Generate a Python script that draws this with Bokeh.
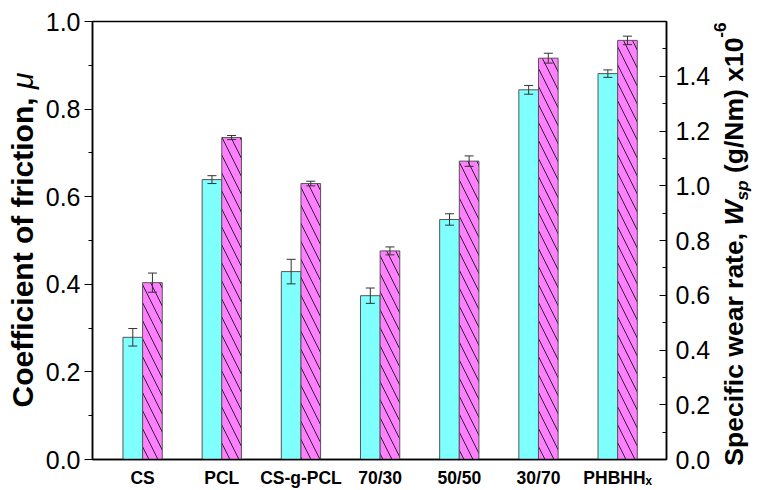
from bokeh.plotting import figure
from bokeh.layouts import row
from bokeh.models import (Range1d, LinearAxis, FixedTicker, Div,
                          PrintfTickFormatter)
from bokeh.embed import file_html
from bokeh.resources import INLINE

# ---- data ----
categories = ["CS", "PCL", "CS-g-PCL", "70/30", "50/50", "30/70", "PHBHH\u2093"]
positions = [1, 2, 3, 4, 5, 6, 7]
mu = [0.279, 0.639, 0.429, 0.374, 0.548, 0.844, 0.881]
mu_err = [0.020, 0.009, 0.028, 0.0175, 0.013, 0.010, 0.0085]
wsp = [0.646, 1.176, 1.008, 0.762, 1.090, 1.466, 1.531]
wsp_err = [0.035, 0.0075, 0.0085, 0.0145, 0.019, 0.018, 0.0155]
left_ticks = [0.0, 0.2, 0.4, 0.6, 0.8, 1.0]
left_minor = [0.1, 0.3, 0.5, 0.7, 0.9]
right_ticks = [0.0, 0.2, 0.4, 0.6, 0.8, 1.0, 1.2, 1.4]
right_minor = [0.1, 0.3, 0.5, 0.7, 0.9, 1.1, 1.3, 1.5]

FONT = "Liberation Sans"
H = 490
LW, MW = 40, 673
RW = 757 - LW - MW
x_lo, x_hi = 0.367, 7.617
bw = 0.248
cap = 0.057
TICK_FS = "25px"

p = figure(width=MW, height=H, output_backend="svg", toolbar_location=None,
           x_range=Range1d(x_lo, x_hi), y_range=Range1d(0, 1.0),
           min_border_left=52, min_border_right=45, min_border_top=21,
           min_border_bottom=30)
p.extra_y_ranges = {"right": Range1d(0, 1.6)}
p.grid.visible = False
p.outline_line_color = "black"
p.outline_line_width = 1.5
p.background_fill_color = "white"
p.border_fill_color = "white"

# left axis
ya = p.yaxis[0]
ya.ticker = FixedTicker(ticks=left_ticks, minor_ticks=left_minor)
ya.formatter = PrintfTickFormatter(format="%.1f")
ya.major_tick_out = 8
ya.major_tick_in = 0
ya.minor_tick_out = 4
ya.minor_tick_in = 0
ya.axis_line_width = 1.5
ya.axis_line_color = "black"
ya.major_tick_line_color = "black"
ya.minor_tick_line_color = "black"
ya.major_label_text_font = FONT
ya.major_label_text_font_size = TICK_FS
ya.major_label_text_color = "black"
ya.major_label_standoff = 4

# right axis
ra = LinearAxis(y_range_name="right",
                ticker=FixedTicker(ticks=right_ticks, minor_ticks=right_minor),
                formatter=PrintfTickFormatter(format="%.1f"))
ra.major_tick_out = 0
ra.major_tick_in = 7
ra.minor_tick_out = 0
ra.minor_tick_in = 4
ra.axis_line_width = 1.5
ra.axis_line_color = "black"
ra.major_label_text_font = FONT
ra.major_label_text_font_size = TICK_FS
ra.major_label_text_color = "black"
ra.major_label_standoff = 9
p.add_layout(ra, "right")

# bottom axis with category labels
xa = p.xaxis[0]
xa.ticker = FixedTicker(ticks=positions)
xa.major_label_overrides = {x: c for x, c in zip(positions, categories)}
xa.major_tick_out = 0
xa.major_tick_in = 0
xa.minor_tick_out = 0
xa.minor_tick_in = 0
xa.major_label_text_font = FONT
xa.major_label_text_font_style = "bold"
xa.major_label_text_font_size = "17.5px"
xa.major_label_text_color = "black"
xa.major_label_standoff = 8
xa.axis_line_width = 1.5
xa.axis_line_color = "black"

# bars
x_cyan = [x - bw / 2 for x in positions]
x_mag = [x + bw / 2 for x in positions]
p.vbar(x=x_cyan, top=mu, bottom=0, width=bw, fill_color="#80FFFF",
       line_color="#555555", line_width=1)
p.vbar(x=x_mag, top=wsp, bottom=0, width=bw, y_range_name="right",
       fill_color="#FF80FF", line_color="#555555", line_width=1,
       hatch_pattern="\\", hatch_color="#111111", hatch_scale=18, hatch_weight=0.9)

# error bars
def errbars(xs, ys, es, **kw):
    lo = [y - e for y, e in zip(ys, es)]
    hi = [y + e for y, e in zip(ys, es)]
    p.segment(x0=xs, y0=lo, x1=xs, y1=hi, line_color="#333333", line_width=1, **kw)
    p.segment(x0=[x - cap for x in xs], y0=hi, x1=[x + cap for x in xs], y1=hi,
              line_color="#333333", line_width=1, **kw)
    p.segment(x0=[x - cap for x in xs], y0=lo, x1=[x + cap for x in xs], y1=lo,
              line_color="#333333", line_width=1, **kw)

errbars(x_cyan, mu, mu_err)
errbars(x_mag, wsp, wsp_err, y_range_name="right")


# rotated axis titles (rich text: italic symbols, sub- and superscripts)
def rotated_title(w, inner_html, size, cx, cy):
    html = (
        f'<div style="position:relative;width:{w}px;height:{H}px;overflow:visible;">'
        f'<div style="position:absolute;left:{cx}px;top:{cy}px;width:max-content;'
        f'transform:translate(-50%,-50%) rotate(-90deg);white-space:nowrap;'
        f"font-family:'{FONT}',sans-serif;font-size:{size}px;font-weight:bold;"
        f'line-height:{size}px;color:#000;">{inner_html}</div></div>'
    )
    return Div(text=html, width=w, height=H, margin=0,
               styles={"overflow": "visible"})


left_text = 'Coefficient of friction, <i style="font-weight:normal;">\u03bc</i>'
right_text = ('Specific wear rate, <i>W</i><span style="font-size:65%;position:relative;'
              'top:0.3em;font-style:italic;">sp</span> (g/Nm) x10<span style="font-size:65%;'
              'position:relative;top:-1em;">-6</span>')

# baseline sits ~0.35 em right of the box centre once rotated
lt = rotated_title(LW, left_text, 30, 33 - 0.347 * 30, 240)
rt = rotated_title(RW, right_text, 26.5, 745 - (LW + MW) - 0.347 * 26.5, 244)

layout = row(lt, p, rt)
open("out.html", "w").write(file_html(layout, INLINE))
